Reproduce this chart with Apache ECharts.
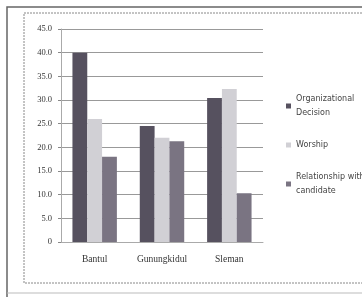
<!DOCTYPE html>
<html>
<head>
    <meta charset="utf-8">
    <title>ECharts</title>
    <script type="text/javascript" src="https://cdn.jsdelivr.net/npm/echarts@6/dist/echarts.min.js"></script>
    <style>
        html, body { margin: 0; padding: 0; background: #fff; }
    </style>
</head>
<body>
	<div id="main" style="height:297px; width:362px;"></div>
	<script type="text/javascript">
	var categories = ['Bantul', 'Gunungkidul', 'Sleman'];
	var seriesNames = ['Organizational\nDecision', 'Worship', 'Relationship with\ncandidate'];
	var orgDecision = [40.0, 24.5, 30.4];
	var worship = [26.0, 22.0, 32.3];
	var relationship = [18.0, 21.3, 10.3];
	var colors = ['#56515f', '#d1d0d5', '#7a7482'];

	var myChart = echarts.init(document.getElementById('main'));
	var values = [orgDecision, worship, relationship];
	var series = [];
	seriesNames.forEach(function(v, k){
		series.push({
			name: v,
			type: 'bar',
			data: values[k],
			barGap: '0%',
			barCategoryGap: '34%',
			itemStyle: {color: colors[k]}
		});
	});

	var option = {
		animation: false,
		backgroundColor: '#fff',
		textStyle: {fontFamily: 'Liberation Serif'},
		graphic: [
			{type: 'polyline', shape: {points: [[7, 297], [7, 7], [362, 7]]}, style: {stroke: '#666', lineWidth: 1.5, fill: null}},
			{type: 'polyline', shape: {points: [[362, 13], [24, 13], [24, 283], [362, 283]]}, style: {stroke: '#888', lineWidth: 1, lineDash: [2, 1], fill: null}},
			{type: 'line', shape: {x1: 7, y1: 293, x2: 362, y2: 293}, style: {stroke: '#bbb', lineWidth: 1}}
		],
		legend: {
			orient: 'vertical',
			left: 281,
			top: 87,
			itemWidth: 5,
			itemHeight: 5,
			itemGap: 18,
			icon: 'rect',
			textStyle: {fontFamily: 'DejaVu Sans', fontSize: 8, color: '#444', lineHeight: 14},
			data: seriesNames
		},
		grid: {left: 61, right: 99, top: 29, bottom: 55},
		xAxis: {
			type: 'category',
			data: categories,
			axisLine: {lineStyle: {color: '#aaa'}},
			axisTick: {show: false},
			axisLabel: {color: '#333', fontSize: 9.5, margin: 12}
		},
		yAxis: {
			type: 'value',
			min: 0,
			max: 45,
			interval: 5,
			axisLine: {show: true, lineStyle: {color: '#aaa'}},
			axisTick: {show: true, length: 3, lineStyle: {color: '#888'}},
			splitLine: {lineStyle: {color: '#999', width: 1}},
			axisLabel: {
				color: '#333',
				fontSize: 8.5,
				margin: 9,
				formatter: function(v){ return v === 0 ? '0' : v.toFixed(1); }
			}
		},
		series: series
	};
	myChart.setOption(option);
	</script>
</body>
</html>
